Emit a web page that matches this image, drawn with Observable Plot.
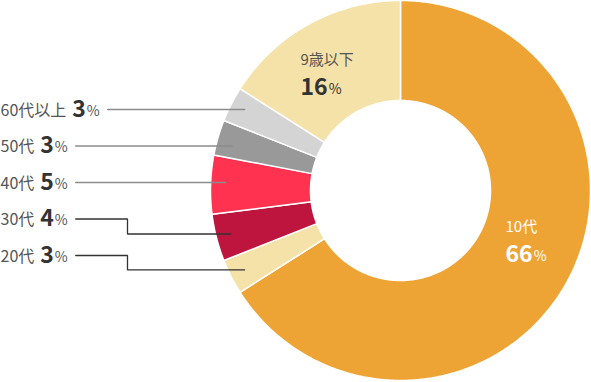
<!DOCTYPE html>
<html><head><meta charset="utf-8">
<script src="https://cdn.jsdelivr.net/npm/d3@7"></script>
<script src="https://cdn.jsdelivr.net/npm/@observablehq/plot@0.6"></script>
<style>body{margin:0;background:#fff;overflow:hidden}</style>
</head><body><div id="chart"></div>
<script>
// ---- data ----
const categories = ["10代","20代","30代","40代","50代","60代以上","9歳以下"];
const shares = [66,3,4,5,3,3,16];
const sliceColors = ["#EEA435","#F4E2A9","#BE153F","#FF3350","#999999","#D4D4D4","#F4E2A9"];
const outsideLabels = ["60代以上","50代","40代","30代","20代"];
const insideLabels = ["9歳以下","10代"];

// ---- layout ----
const W = 591, H = 382, cx = 400, cy = 190, R = 190, r0 = 90;
const FONT = '"Noto Sans CJK JP", "Noto Sans", sans-serif';
const rowTop = 109, rowStep = 36.5, gapName = 6, leaderR = 175, elbowX = 127;
const insidePos = {"9歳以下": {x: 300, y: 60, fill: "#555", numFill: "#333"},
                   "10代": {x: 505, y: 227, fill: "#fff", numFill: "#fff"}};
const nameSize = 16, numSize = 23, pctSize = 14;

const ctx = document.createElement("canvas").getContext("2d");
function tw(s, font) { ctx.font = font; return ctx.measureText(s).width; }
const nameFont = `${nameSize}px ${FONT}`, numFont = `bold ${numSize}px ${FONT}`, pctFont = `${pctSize}px ${FONT}`;

const pie = d3.pie().sort(null).value(d => d.v)(categories.map((c, i) => ({c, v: shares[i]})));
const pt = (a, rad) => ({x: cx + rad * Math.sin(a), y: cy - rad * Math.cos(a)});

const poly = [];
pie.forEach((p, k) => {
  const a0 = p.startAngle, a1 = p.endAngle;
  const n = Math.max(4, Math.ceil((a1 - a0) / (Math.PI / 360)));
  const pts = [];
  for (let i = 0; i <= n; i++) pts.push(pt(a0 + (a1 - a0) * i / n, R));
  for (let i = n; i >= 0; i--) pts.push(pt(a0 + (a1 - a0) * i / n, r0));
  pts.push(pts[0]);
  pts.forEach(q => poly.push({...q, id: k, cat: categories[k]}));
});

const rows = outsideLabels.map((name, i) => {
  const k = categories.indexOf(name), p = pie[k];
  const y = rowTop + i * rowStep;
  const num = String(shares[k]);
  const numX = tw(name, nameFont) + gapName;
  const pctX = numX + tw(num, numFont) + 1;
  const x0 = pctX + tw("%", pctFont) + 8;
  const mid = (p.startAngle + p.endAngle) / 2;
  const e = pt(mid, leaderR);
  const elbow = Math.abs(e.y - y) > 8;
  const path = elbow
    ? [{x: x0, y}, {x: elbowX, y}, {x: elbowX, y: e.y}, {x: e.x, y: e.y}]
    : [{x: x0, y}, {x: e.x, y}];
  return {name, num, y, numX, pctX, elbow, path: path.map(q => ({...q, id: i}))};
});
const straightLines = rows.filter(r => !r.elbow).flatMap(r => r.path);
const elbowLines = rows.filter(r => r.elbow).flatMap(r => r.path);

const inside = insideLabels.map(name => {
  const k = categories.indexOf(name), pos = insidePos[name];
  const num = String(shares[k]);
  return {name, num, x: pos.x, y: pos.y, ny: pos.y + 27, pctX: pos.x + tw(num, numFont) + 1, fill: pos.fill, numFill: pos.numFill};
});

const chart = Plot.plot({
  width: W, height: H, margin: 0,
  x: {domain: [0, W], range: [0, W], axis: null},
  y: {domain: [0, H], range: [0, H], axis: null},
  color: {domain: categories, range: sliceColors},
  style: {fontFamily: FONT, background: "#fff"},
  marks: [
    Plot.line(poly, {x: "x", y: "y", z: "id", fill: "cat", stroke: "#fff", strokeWidth: 1.5, curve: "linear"}),
    Plot.line(straightLines, {x: "x", y: "y", z: "id", stroke: "#8c8c8c", strokeWidth: 1.6}),
    Plot.line(elbowLines, {x: "x", y: "y", z: "id", stroke: "#333", strokeWidth: 1.3, strokeLinejoin: "miter"}),
    Plot.text(rows, {x: 0, y: "y", text: "name", textAnchor: "start", fontSize: nameSize, fill: "#555", dy: 1}),
    Plot.text(rows, {x: "numX", y: "y", text: "num", textAnchor: "start", fontSize: numSize, fontWeight: "bold", fill: "#333"}),
    Plot.text(rows, {x: "pctX", y: "y", text: () => "%", textAnchor: "start", fontSize: pctSize, fill: "#555", dy: 2}),
    Plot.text(inside, {x: "x", y: "y", text: "name", textAnchor: "start", fontSize: 15, fill: d => d.fill}),
    Plot.text(inside, {x: "x", y: "ny", text: "num", textAnchor: "start", fontSize: numSize, fontWeight: "bold", fill: d => d.numFill}),
    Plot.text(inside, {x: "pctX", y: "ny", text: () => "%", textAnchor: "start", fontSize: pctSize, fill: d => d.numFill, dy: 2})
  ]
});
document.getElementById("chart").appendChild(chart);
</script>
</body></html>
